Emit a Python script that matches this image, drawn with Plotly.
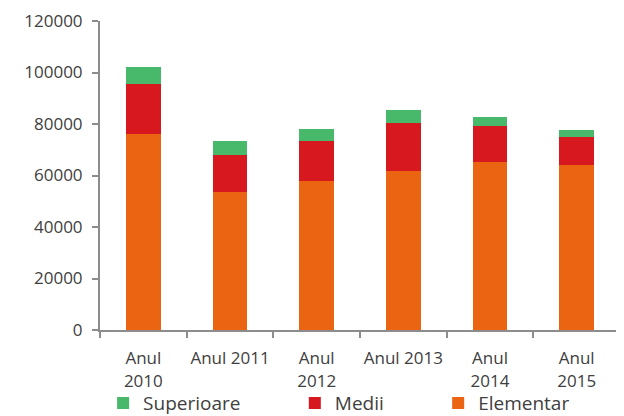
import plotly.graph_objects as go

years = ["Anul<br>2010", "Anul 2011", "Anul<br>2012", "Anul 2013", "Anul<br>2014", "Anul<br>2015"]
elementar = [76100, 53500, 57900, 61700, 65100, 64000]
medii = [19300, 14500, 15400, 18700, 14100, 11100]
superioare = [6700, 5300, 4800, 4900, 3500, 2400]

text_color = "#404040"
axis_color = "#8c8c8c"
pad = "\u00a0" * 10  # widens the legend entries like the original

fig = go.Figure()
fig.add_trace(go.Bar(x=years, y=elementar, name="Elementar", marker=dict(color="#eb6411", line=dict(width=0))))
fig.add_trace(go.Bar(x=years, y=medii, name="Medii" + pad, marker=dict(color="#d7181f", line=dict(width=0))))
fig.add_trace(go.Bar(x=years, y=superioare, name="Superioare" + pad, marker=dict(color="#48b86b", line=dict(width=0))))

# page has an 8px body margin, so the figure is sized to fit the window
fig.update_layout(
    barmode="stack",
    bargap=0.6,
    width=616, height=408,
    margin=dict(l=92, r=4, t=13, b=86, autoexpand=False),
    plot_bgcolor="white", paper_bgcolor="white",
    font=dict(family="Open Sans", size=17, color=text_color),
    legend=dict(
        orientation="h", traceorder="reversed", bgcolor="rgba(0,0,0,0)",
        yref="container", x=0.006, xanchor="left", y=0.078, yanchor="top",
        font=dict(size=19, color=text_color),
        itemwidth=30,
    ),
    xaxis=dict(
        showline=True, linecolor=axis_color, linewidth=2,
        ticks="outside", tickson="boundaries", ticklen=6, tickcolor=axis_color, tickwidth=2,
        tickfont=dict(size=17, color=text_color), tickangle=0, ticklabelstandoff=12,
        showgrid=False, automargin=False,
    ),
    yaxis=dict(
        range=[0, 120000], dtick=20000,
        showline=True, linecolor=axis_color, linewidth=2,
        ticks="outside", ticklen=6, tickcolor=axis_color, tickwidth=2,
        tickfont=dict(size=17, color=text_color), ticklabelstandoff=6,
        showgrid=False, zeroline=False, tickformat="d", automargin=False,
    ),
)

fig.write_html("out.html")
